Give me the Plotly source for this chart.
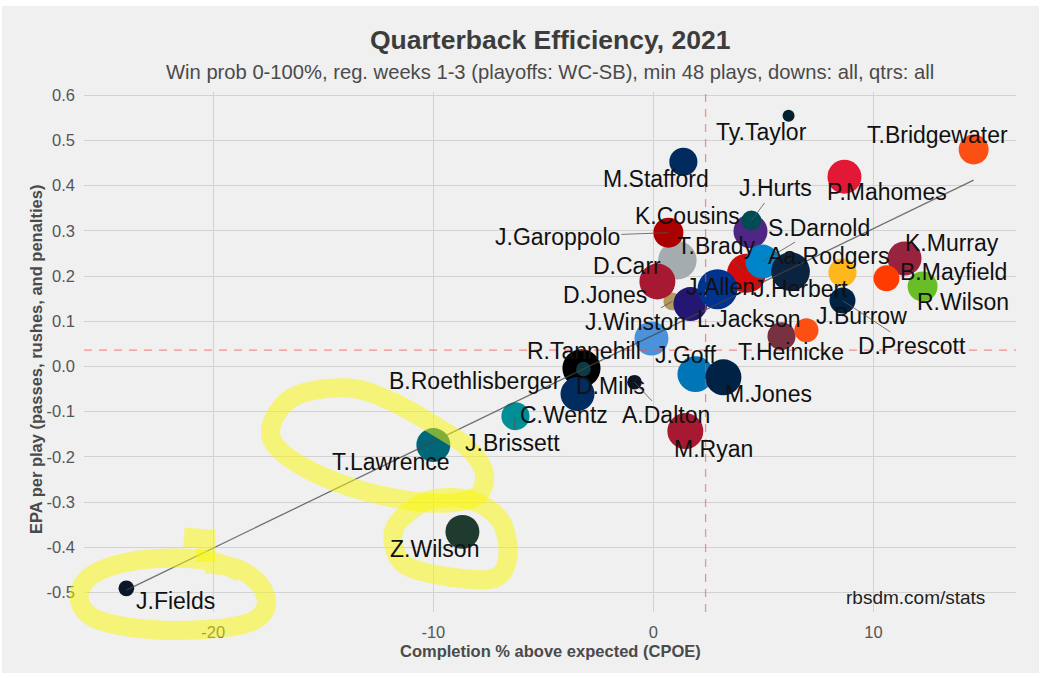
import numpy as np
import plotly.graph_objects as go

# ---------------- data ----------------
players = ["B.Roethlisberger", "C.Wentz", "D.Mills", "D.Carr", "J.Garoppolo", "J.Winston",
           "D.Jones", "L.Jackson", "K.Cousins", "J.Hurts", "T.Brady", "J.Allen",
           "S.Darnold", "Aa.Rodgers", "J.Goff", "M.Jones", "T.Heinicke", "J.Burrow",
           "K.Murray", "B.Mayfield", "Ty.Taylor", "T.Bridgewater", "M.Stafford",
           "P.Mahomes", "J.Herbert", "D.Prescott", "R.Wilson", "R.Tannehill",
           "A.Dalton", "J.Brissett", "M.Ryan", "T.Lawrence", "Z.Wilson", "J.Fields"]
cpoe = [-3.27, -3.45, -3.18, 1.09, 0.68, 0.86,
        0.18, 1.68, 4.41, 4.45, 4.23, 2.91,
        4.95, 6.23, 1.91, 3.18, 5.82, 6.95,
        11.41, 10.59, 6.14, 14.55, 1.36,
        8.68, 8.59, 8.59, 12.23, -0.09,
        -0.86, -6.27, 1.45, -10.0, -8.68, -23.95]
epa = [-0.004, -0.061, -0.006, 0.235, 0.296, 0.144,
       0.188, 0.138, 0.299, 0.323, 0.206, 0.171,
       0.232, 0.210, -0.017, -0.024, 0.067, 0.080,
       0.239, 0.195, 0.555, 0.480, 0.453,
       0.420, 0.208, 0.146, 0.177, 0.062,
       -0.035, -0.110, -0.143, -0.174, -0.366, -0.491]
plays = [145, 117, 49, 148, 94, 53,
         130, 117, 117, 57, 152, 160,
         117, 150, 130, 130, 85, 69,
         117, 76, 48, 94, 85,
         117, 85, 76, 94, 117,
         49, 85, 130, 117, 117, 50]
team_colors = ["#000000", "#002C5F", "#0d3b45", "#A5ACAF", "#AA0000", "#B3995D",
               "#A71930", "#241773", "#4F2683", "#004C54", "#D50A0A", "#00338D",
               "#0085CA", "#0C2340", "#0076B6", "#002244", "#773141", "#FB4F14",
               "#97233F", "#FF3C00", "#03202F", "#FB4F14", "#002B5C",
               "#E31837", "#FFB81C", "#002244", "#69BE28", "#4B92DB",
               "#0B162A", "#008E97", "#A71930", "#006778", "#1f3a2f", "#0B162A"]

cpoe_league_mean = 2.37
epa_league_mean = 0.036

x_tick_values = [-20, -10, 0, 10]
y_tick_values = [-0.5, -0.4, -0.3, -0.2, -0.1, 0.0, 0.1, 0.2, 0.3, 0.4, 0.5, 0.6]
x_tick_labels = ["-20", "-10", "0", "10"]
y_tick_labels = ["-0.5", "-0.4", "-0.3", "-0.2", "-0.1", "0.0", "0.1", "0.2", "0.3", "0.4", "0.5", "0.6"]

title_text = "Quarterback Efficiency, 2021"
subtitle_text = "Win prob 0-100%, reg. weeks 1-3 (playoffs: WC-SB), min 48 plays, downs: all, qtrs: all"
x_title = "Completion % above expected (CPOE)"
y_title = "EPA per play (passes, rushes, and penalties)"
caption = "rbsdm.com/stats"

# ---------------- layout / style ----------------
W, H = 1053, 678
ML, MR, MT, MB = 84, 37, 92, 66
PW, PH = W - ML - MR, H - MT - MB
FONT = "Liberation Sans, Arial, sans-serif"
BG = "#F0F0F0"
GRID = "#D2D2D2"

# label offsets in pixels (label centre relative to point centre, +y downwards)
label_offsets = {
    "Ty.Taylor": (-27, 16), "T.Bridgewater": (-36, -15), "M.Stafford": (-27, 17),
    "P.Mahomes": (43, 15), "J.Hurts": (24, -32), "K.Cousins": (-63, -15),
    "S.Darnold": (57, -34), "J.Garoppolo": (-111, 4), "T.Brady": (-31, -27),
    "Aa.Rodgers": (38, -16), "D.Carr": (-50, 6), "K.Murray": (47, -15),
    "B.Mayfield": (67, -6), "J.Allen": (3, -2), "J.Herbert": (-42, 17),
    "D.Jones": (-52, 13), "R.Wilson": (40, 16), "J.Burrow": (55, -14),
    "J.Winston": (-37, 21), "L.Jackson": (59, 15), "D.Prescott": (70, 46),
    "T.Heinicke": (9, 16), "R.Tannehill": (-67, 13), "J.Goff": (-9, -19),
    "B.Roethlisberger": (-106, 13), "D.Mills": (27, 17), "M.Jones": (45, 17),
    "A.Dalton": (31, 33), "C.Wentz": (-14, 21), "J.Brissett": (-3, 27),
    "M.Ryan": (28, 18), "T.Lawrence": (-42, 17), "Z.Wilson": (-28, 17),
    "J.Fields": (49, 13),
}
leader_lines = {"J.Hurts", "S.Darnold", "J.Garoppolo", "T.Brady", "J.Winston",
                "D.Prescott", "A.Dalton", "J.Brissett"}

x = np.array(cpoe)
y = np.array(epa)
p = np.array(plays, dtype=float)

# bubble size (ggplot-like area scaling)
r_min, r_max = 6, 20
radius = r_min + (r_max - r_min) * np.sqrt((p - p.min()) / (p.max() - p.min()))
diam = 2 * radius

# ranges with 5% expansion
xspan = x.max() - x.min()
yspan = y.max() - y.min()
xr = [x.min() - 0.05 * xspan, x.max() + 0.05 * xspan]
yr = [y.min() - 0.05 * yspan, y.max() + 0.05 * yspan]

fig = go.Figure()
fig.add_trace(go.Scatter(
    x=x, y=y, mode="markers", text=players,
    marker=dict(size=diam, sizemode="diameter", color=team_colors, line=dict(width=0), opacity=1),
    hovertemplate="%{text}<br>CPOE %{x}<br>EPA %{y}<extra></extra>",
))

# linear fit over the data range
slope, intercept = np.polyfit(x, y, 1)
fx = np.array([x.min(), x.max()])
fig.add_trace(go.Scatter(x=fx, y=intercept + slope * fx, mode="lines",
                         line=dict(color="rgba(70,70,70,0.75)", width=1.3), hoverinfo="skip"))

# league mean lines
fig.add_vline(x=cpoe_league_mean, line=dict(color="rgba(240,80,80,0.6)", width=1.3, dash="8px,7px"))
fig.add_hline(y=epa_league_mean, line=dict(color="rgba(240,80,80,0.6)", width=1.3, dash="8px,7px"))

annotations = []
for name, xi, yi in zip(players, cpoe, epa):
    dx, dy = label_offsets[name]
    common = dict(x=xi, y=yi, xref="x", yref="y", text=name,
                  font=dict(family=FONT, size=23, color="#111111"))
    if name in leader_lines:
        annotations.append(dict(**common, showarrow=True, arrowhead=0, arrowwidth=0.8,
                                arrowcolor="#555555", ax=dx, ay=dy, standoff=0))
    else:
        annotations.append(dict(**common, showarrow=False, xshift=dx, yshift=-dy))


def to_paper(px, py):
    return (px - ML) / PW, (H - MB - py) / PH


annotations += [
    dict(text="<b>" + title_text + "</b>", xref="paper", yref="paper",
         x=0.5, y=to_paper(0, 40)[1], showarrow=False, yanchor="middle",
         font=dict(family=FONT, size=26.5, color="#3C3C3C")),
    dict(text=subtitle_text, xref="paper", yref="paper",
         x=0.5, y=to_paper(0, 72)[1], showarrow=False, yanchor="middle",
         font=dict(family=FONT, size=20.2, color="#4a4a4a")),
    dict(text="<b>" + x_title + "</b>", xref="paper", yref="paper",
         x=0.5, y=to_paper(0, 651)[1], showarrow=False, yanchor="middle",
         font=dict(family=FONT, size=16.5, color="#4a4a4a")),
    dict(text="<b>" + y_title + "</b>", xref="paper", yref="paper",
         x=to_paper(36, 0)[0], y=to_paper(0, 360)[1], showarrow=False, textangle=-90,
         xanchor="center", yanchor="middle",
         font=dict(family=FONT, size=16.5, color="#4a4a4a")),
    dict(text=caption, xref="paper", yref="paper",
         x=to_paper(987, 0)[0], y=to_paper(0, 597)[1], showarrow=False,
         xanchor="right", yanchor="middle",
         font=dict(family=FONT, size=19, color="#222222")),
]


def smooth_path(pts, closed):
    P = [np.array(to_paper(a, b)) for a, b in pts]
    n = len(P)
    if closed:
        get = lambda i: P[i % n]
        segs = range(n)
    else:
        get = lambda i: P[min(max(i, 0), n - 1)]
        segs = range(n - 1)
    f = lambda v: f"{v[0]:.5f},{v[1]:.5f}"
    d = "M " + f(P[0])
    for i in segs:
        p0, p1, p2, p3 = get(i - 1), get(i), get(i + 1), get(i + 2)
        c1 = p1 + (p2 - p0) / 6
        c2 = p2 - (p3 - p1) / 6
        d += " C " + f(c1) + " " + f(c2) + " " + f(p2)
    if closed:
        d += " Z"
    return d


def poly_path(pts):
    P = [to_paper(a, b) for a, b in pts]
    return "M " + " L ".join(f"{a:.5f},{b:.5f}" for a, b in P)


shapes = [
    # grey panel of the figure
    dict(type="rect", xref="paper", yref="paper", layer="below",
         x0=to_paper(2, 0)[0], x1=to_paper(1039, 0)[0],
         y0=to_paper(0, 673)[1], y1=to_paper(0, 6)[1],
         fillcolor=BG, line=dict(width=0)),
]

# hand-drawn yellow highlighter marks on the screenshot (decoration, pixel space)
HL = dict(color="rgba(250,248,0,0.5)", width=19)
highlight_paths = [
    smooth_path([(277, 413), (300, 394), (350, 388), (393, 402), (437, 427), (467, 447), (484, 472),
                 (478, 495), (450, 503), (405, 500), (350, 487), (300, 465), (272, 440)], True),
    smooth_path([(400, 520), (430, 500), (470, 500), (500, 520), (508, 555), (495, 578), (450, 577),
                 (405, 565), (393, 540)], True),
    poly_path([(184, 537), (206, 539), (206, 562)]),
    smooth_path([(206, 564), (236, 568), (260, 585), (266, 607), (248, 623), (195, 630), (135, 628),
                 (92, 617), (79, 596), (92, 575), (128, 562), (175, 558), (215, 562), (240, 572)], False),
]
for path in highlight_paths:
    shapes.append(dict(type="path", xref="paper", yref="paper", layer="above",
                       path=path, fillcolor="rgba(0,0,0,0)", line=HL))

fig.update_layout(
    width=W, height=H,
    margin=dict(l=ML, r=MR, t=MT, b=MB, pad=0),
    paper_bgcolor="white", plot_bgcolor=BG,
    showlegend=False,
    annotations=annotations, shapes=list(fig.layout.shapes) + shapes,
    font=dict(family=FONT),
)
fig.update_xaxes(range=xr, tickmode="array", tickvals=x_tick_values, ticktext=x_tick_labels,
                 showgrid=True, gridcolor=GRID, gridwidth=1.3, zeroline=False, showline=False,
                 ticks="", ticklabelstandoff=8,
                 tickfont=dict(family=FONT, size=16.5, color="#555555"))
fig.update_yaxes(range=yr, tickmode="array", tickvals=y_tick_values, ticktext=y_tick_labels,
                 showgrid=True, gridcolor=GRID, gridwidth=1.3, zeroline=False, showline=False,
                 ticks="", ticklabelstandoff=8,
                 tickfont=dict(family=FONT, size=16.5, color="#555555"))

fig.write_html("out.html", config={"displayModeBar": False},
               post_script="document.body.style.margin='0px';document.body.style.overflow='hidden';")
